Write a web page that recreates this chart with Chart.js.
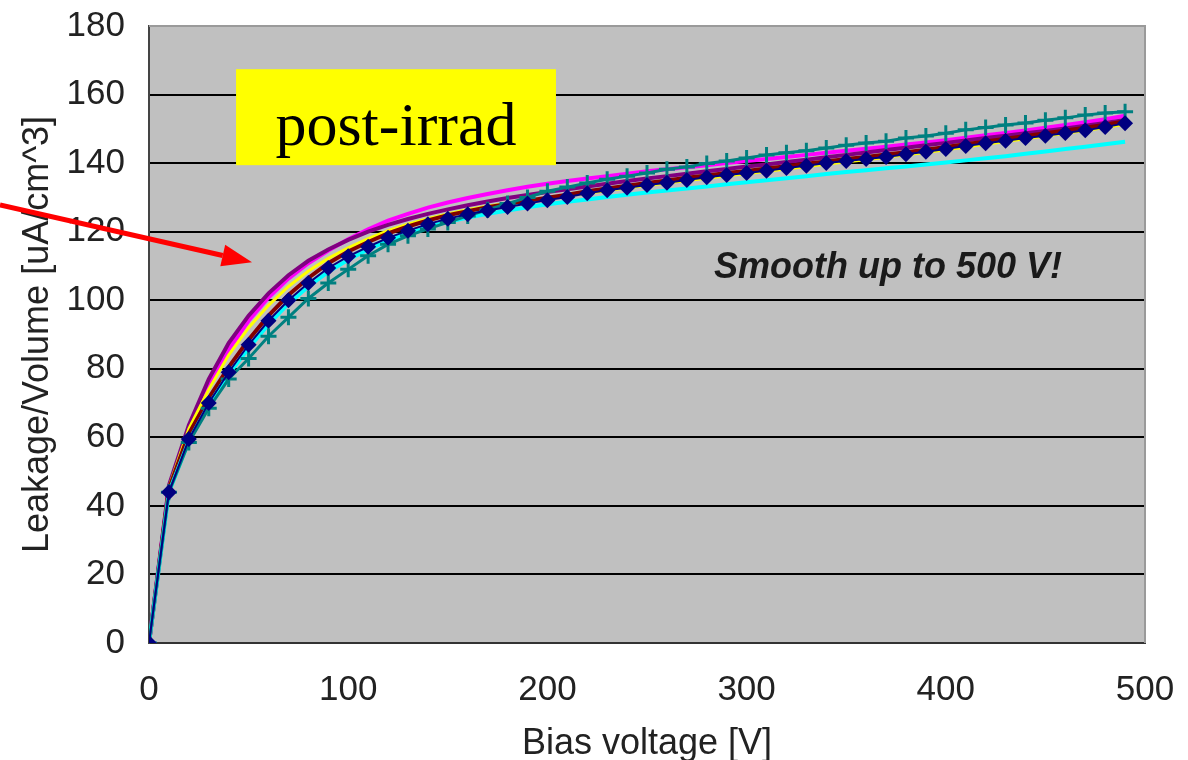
<!DOCTYPE html>
<html>
<head>
<meta charset="utf-8">
<script src="https://cdn.jsdelivr.net/npm/chart.js@4"></script>
<style>
  html, body { margin: 0; padding: 0; background: #fff; }
  #wrap { width: 1188px; height: 760px; }
</style>
</head>
<body>
<div id="wrap"><canvas id="ivChart" width="1188" height="760"></canvas></div>
<script>
// bias voltage steps [V]
const voltages = [0, 10, 20, 30, 40, 50, 60, 70, 80, 90,
  100, 110, 120, 130, 140, 150, 160, 170, 180, 190,
  200, 210, 220, 230, 240, 250, 260, 270, 280, 290,
  300, 310, 320, 330, 340, 350, 360, 370, 380, 390,
  400, 410, 420, 430, 440, 450, 460, 470, 480, 490];

// leakage / volume [uA/cm^3], one array per sensor
const navyDiamond = [0, 44, 59.5, 70, 79, 87, 94, 100, 105, 109.4,
  112.8, 115.6, 118.2, 120.3, 122.2, 123.8, 125.1, 126.2, 127.2, 128.2,
  129.2, 130.1, 131.2, 132.1, 132.8, 133.6, 134.3, 135.1, 135.9, 136.5,
  137.1, 137.8, 138.6, 139.2, 140, 140.6, 141.2, 141.8, 142.6, 143.3,
  144.1, 145, 145.8, 146.5, 147.3, 148, 148.8, 149.6, 150.5, 151.6];
const tealCross = [0, 44, 58.5, 68.5, 77, 83, 89.5, 95, 100.5, 105,
  109, 113, 116.3, 118.8, 120.8, 122.7, 124.6, 126.4, 128.2, 130,
  131.8, 133, 134.2, 135.3, 136.2, 137.1, 138.2, 138.9, 139.9, 140.6,
  141.5, 142.4, 143, 143.6, 144.4, 145.2, 145.9, 146.4, 147.3, 147.9,
  148.7, 149.7, 150.4, 151.1, 151.7, 152.5, 153.2, 154, 154.6, 155];
const magentaLine = [0, 45.5, 62, 75, 85.5, 94, 100.8, 106.3, 110.8, 114.5,
  117.8, 120.7, 123.2, 125.2, 127, 128.5, 129.8, 131, 132.1, 133.1,
  134, 134.8, 135.5, 136.2, 136.9, 137.6, 138.2, 138.8, 139.4, 140,
  140.6, 141.2, 141.8, 142.4, 143, 143.6, 144.2, 144.8, 145.4, 146,
  146.7, 147.4, 148.1, 148.8, 149.5, 150.3, 151.1, 151.9, 152.8, 153.8];
const purpleLine = [0, 46, 63.5, 77, 87.5, 95.5, 102, 107.3, 111.5, 114.8,
  117.6, 120, 122, 123.7, 125.2, 126.5, 127.7, 128.8, 129.8, 130.7,
  131.6, 132.4, 133.2, 134, 134.8, 135.5, 136.2, 136.9, 137.6, 138.3,
  139, 139.6, 140.3, 141, 141.7, 142.4, 143.1, 143.8, 144.5, 145.2,
  145.9, 146.6, 147.3, 148, 148.7, 149.4, 150.1, 150.9, 151.7, 152.6];
const yellowLine = [0, 45.5, 62.5, 74, 84, 92, 98.5, 104, 108.5, 112.2,
  115.3, 118, 120.3, 122.2, 123.8, 125.2, 126.4, 127.4, 128.3, 129.1,
  129.8, 130.5, 131.2, 132, 132.8, 133.5, 134.2, 134.9, 135.6, 136.3,
  136.9, 137.6, 138.3, 139, 139.7, 140.4, 141, 141.7, 142.4, 143.1,
  143.9, 144.7, 145.5, 146.3, 147.1, 147.9, 148.7, 149.5, 150.4, 151.3];
const maroonLine = [0, 45, 61, 71.5, 80.5, 88.5, 95.5, 101.5, 106.5, 110.8,
  114.2, 117, 119.5, 121.5, 123.3, 124.8, 126, 127.1, 128.1, 129,
  129.9, 130.8, 131.8, 132.6, 133.4, 134.2, 134.9, 135.7, 136.4, 137.1,
  137.7, 138.4, 139.1, 139.8, 140.5, 141.2, 141.8, 142.5, 143.2, 143.9,
  144.7, 145.5, 146.3, 147.1, 147.9, 148.7, 149.5, 150.3, 151.2, 152.2];
const cyanLine = [0, 44, 59, 69.5, 78.5, 86, 93, 99, 104, 108.3,
  111.8, 114.8, 117.4, 119.6, 121.4, 122.9, 124.1, 125.2, 126.2, 127.1,
  128, 128.7, 129.4, 130.1, 130.8, 131.4, 132, 132.6, 133.2, 133.8,
  134.4, 135, 135.6, 136.2, 136.8, 137.4, 137.9, 138.5, 139, 139.6,
  140.2, 140.8, 141.4, 142, 142.7, 143.4, 144.1, 144.8, 145.5, 146.2];

const xTicks = [0, 100, 200, 300, 400, 500];
const yTicks = [0, 20, 40, 60, 80, 100, 120, 140, 160, 180];

const boxLabel = 'post-irrad';
const noteLabel = 'Smooth up to 500 V!';

function pairs(values) {
  return voltages.map((v, i) => ({ x: v, y: values[i] }));
}

function lineSet(label, values, color, width, order) {
  return {
    label: label,
    data: pairs(values),
    borderColor: color,
    backgroundColor: color,
    borderWidth: width,
    pointRadius: 0,
    tension: 0,
    order: order
  };
}

const decorations = {
  id: 'decorations',
  beforeDraw(chart) {
    const { ctx, chartArea: a } = chart;
    ctx.save();
    ctx.fillStyle = '#c0c0c0';
    ctx.fillRect(a.left, a.top, a.right - a.left, a.bottom - a.top);
    ctx.restore();
  },
  afterDraw(chart) {
    const { ctx, chartArea: a } = chart;
    const xs = chart.scales.x, ys = chart.scales.y;
    ctx.save();

    // frame on top / right
    ctx.strokeStyle = '#9a9a9a';
    ctx.lineWidth = 2;
    ctx.beginPath();
    ctx.moveTo(a.left, a.top);
    ctx.lineTo(a.right, a.top);
    ctx.lineTo(a.right, a.bottom);
    ctx.stroke();

    // yellow label box
    const bx0 = xs.getPixelForValue(43.7), bx1 = xs.getPixelForValue(204.3);
    const by0 = ys.getPixelForValue(167.4), by1 = ys.getPixelForValue(139.4);
    ctx.fillStyle = '#ffff00';
    ctx.fillRect(bx0, by0, bx1 - bx0, by1 - by0);
    ctx.fillStyle = '#000';
    ctx.font = '62px "Liberation Serif", "Times New Roman", serif';
    ctx.textAlign = 'center';
    ctx.textBaseline = 'alphabetic';
    ctx.fillText(boxLabel, (bx0 + bx1) / 2, ys.getPixelForValue(145.3));

    // note
    ctx.fillStyle = '#1a1a1a';
    ctx.font = 'italic bold 36px "Liberation Sans", Arial, sans-serif';
    ctx.textBaseline = 'middle';
    ctx.fillText(noteLabel, xs.getPixelForValue(371), ys.getPixelForValue(109.4));

    // red arrow
    const sx = xs.getPixelForValue(-74.8), sy = ys.getPixelForValue(127.8);
    const tx = xs.getPixelForValue(51.7), ty = ys.getPixelForValue(111.1);
    const ang = Math.atan2(ty - sy, tx - sx);
    const head = 30, half = 11;
    const hx = tx - head * Math.cos(ang), hy = ty - head * Math.sin(ang);
    ctx.strokeStyle = '#ff0000';
    ctx.fillStyle = '#ff0000';
    ctx.lineWidth = 5;
    ctx.beginPath();
    ctx.moveTo(sx, sy);
    ctx.lineTo(hx, hy);
    ctx.stroke();
    ctx.beginPath();
    ctx.moveTo(tx, ty);
    ctx.lineTo(hx + half * Math.sin(ang), hy - half * Math.cos(ang));
    ctx.lineTo(hx - half * Math.sin(ang), hy + half * Math.cos(ang));
    ctx.closePath();
    ctx.fill();
    ctx.restore();
  }
};

const tickFont = { family: '"Liberation Sans", Arial, sans-serif', size: 35 };
const titleFont = { family: '"Liberation Sans", Arial, sans-serif', size: 36, lineHeight: 1 };

new Chart(document.getElementById('ivChart').getContext('2d'), {
  type: 'line',
  data: {
    datasets: [
      {
        label: 'navy',
        data: pairs(navyDiamond),
        borderColor: '#000080',
        backgroundColor: '#000080',
        borderWidth: 2,
        pointStyle: 'rectRot',
        pointRadius: 8,
        pointBorderWidth: 0,
        tension: 0,
        order: 0
      },
      {
        label: 'teal',
        data: pairs(tealCross),
        borderColor: '#008080',
        backgroundColor: '#008080',
        borderWidth: 3,
        pointStyle: 'cross',
        pointRadius: 8,
        pointBorderWidth: 3,
        tension: 0,
        order: 1
      },
      lineSet('cyan', cyanLine, '#00ffff', 4, 2),
      lineSet('maroon', maroonLine, '#800000', 4, 3),
      lineSet('yellow', yellowLine, '#ffff00', 3, 4),
      lineSet('purple', purpleLine, '#800080', 4, 5),
      lineSet('magenta', magentaLine, '#ff00ff', 4, 6)
    ]
  },
  options: {
    responsive: false,
    animation: false,
    layout: { padding: { top: 26, right: 43, left: 0, bottom: 0 } },
    plugins: {
      legend: { display: false },
      tooltip: { enabled: false }
    },
    scales: {
      x: {
        type: 'linear',
        min: 0,
        max: 500,
        afterFit(scale) {
          scale.height = 117;
          scale.paddingLeft = 0;
          scale.paddingRight = 0;
        },
        afterBuildTicks(scale) { scale.ticks = xTicks.map(v => ({ value: v })); },
        grid: { display: false, drawTicks: false },
        border: { display: true, color: '#333', width: 2 },
        ticks: { color: '#222', font: tickFont, padding: 26, maxRotation: 0 },
        title: {
          display: true,
          text: 'Bias voltage [V]',
          color: '#222',
          font: titleFont,
          padding: { top: 0, bottom: -2 }
        }
      },
      y: {
        min: 0,
        max: 180,
        afterFit(scale) {
          scale.width = 149;
          scale.paddingTop = 0;
          scale.paddingBottom = 0;
        },
        afterBuildTicks(scale) { scale.ticks = yTicks.map(v => ({ value: v })); },
        grid: {
          drawTicks: false,
          color: ctx => ctx.tick.value === 180 ? '#9a9a9a' : '#000',
          lineWidth: 2
        },
        border: { display: true, color: '#444', width: 2 },
        ticks: { color: '#222', font: tickFont, padding: 24 },
        title: {
          display: true,
          text: 'Leakage/Volume [uA/cm^3]',
          color: '#222',
          font: titleFont,
          padding: { top: 20, bottom: 0 }
        }
      }
    }
  },
  plugins: [decorations]
});
</script>
</body>
</html>
